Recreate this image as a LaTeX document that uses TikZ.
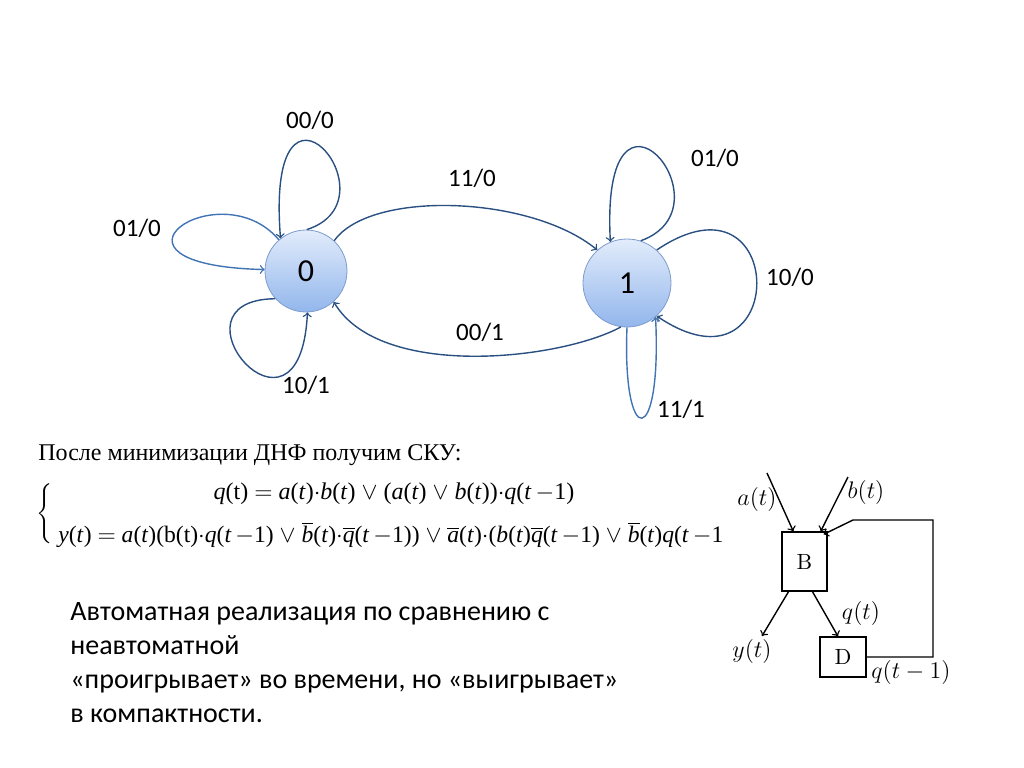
\documentclass[tikz,border=0pt]{standalone}
\usepackage{fontspec}
\setmainfont{Carlito}
\newfontfamily\timesfont{Liberation Serif}
\newfontfamily\lmfont{Latin Modern Roman}
\usetikzlibrary{positioning}

\definecolor{linea}{RGB}{42,80,130}
\definecolor{linea2}{RGB}{66,116,180}
\definecolor{bordo}{RGB}{125,155,205}
\definecolor{chiaro}{RGB}{226,236,251}
\definecolor{scuro}{RGB}{146,182,236}

\newcommand{\vi}[1]{\textit{#1}}
\newcommand{\nega}[1]{$\overline{\mbox{\textit{#1}}}$}

\begin{document}
\begin{tikzpicture}[x=0.5pt,y=-0.5pt,
    stato/.style={circle, draw=bordo, top color=chiaro, bottom color=scuro,
        inner sep=0pt, font=\fontsize{16}{18}\selectfont},
    arco/.style={->, linea, line width=0.7pt},
    etich/.style={font=\fontsize{12.5}{14}\selectfont},
    blocco/.style={draw, line width=0.7pt, inner sep=0pt, font=\lmfont\fontsize{11}{12}\selectfont},
    freccia/.style={->, line width=0.7pt},
    segnale/.style={font=\fontsize{12}{14}\selectfont}]
    \useasboundingbox (0,0) rectangle (1024,767);

    % stati
    \node[stato, minimum size=41pt] (s0) at (306,271) {0};
    \node[stato, minimum size=44pt] (s1) at (627,283) {1};

    % anelli sullo stato 0
    \draw[arco] (s0.89) .. controls (400,200) and (265,40) .. (s0.128);
    \draw[arco, linea2] (s0.131) .. controls (220,170) and (80,265) .. (s0.178);
    \draw[arco] (s0.222) .. controls (160,300) and (300,465) .. (s0.272);

    % archi tra gli stati
    \draw[arco] (s0.47) .. controls (370,190) and (530,195) .. (s1.132);
    \draw[arco] (s1.262) .. controls (560,360) and (380,380) .. (s0.312);

    % anelli sullo stato 1
    \draw[arco] (s1.72) .. controls (735,207) and (600,47) .. (s1.112);
    \draw[arco] (s1.48) .. controls (790,160) and (790,406) .. (s1.312);
    \draw[arco, linea2] (s1.270) .. controls (622,450) and (662,450) .. (s1.310);

    % etichette
    \node[etich] (e1) at (310,120) {00/0};
    \node[etich] (e2) at (137,228) {01/0};
    \node[etich] (e3) at (306,385) {10/1};
    \node[etich] (e4) at (472,178) {11/0};
    \node[etich] (e5) at (480,332) {00/1};
    \node[etich] (e6) at (715,158) {01/0};
    \node[etich] (e7) at (790,277) {10/0};
    \node[etich] (e8) at (681,409) {11/1};

    % sistema
    \node[anchor=west, inner sep=0pt, font=\timesfont\fontsize{12}{14}\selectfont] (titolo) at (38,455)
        {После минимизации ДНФ получим СКУ:};
    \node[inner sep=0pt, font=\fontsize{12}{14}\selectfont] (graffa) at (46,515)
        {$\left\{\rule{0pt}{13pt}\rule[-13pt]{0pt}{13pt}\right.$};
    \node[inner sep=0pt, font=\timesfont\fontsize{12}{14}\selectfont] (eq1) at (394,494)
        {\vi{q}(t) $=$ \vi{a}(\vi{t})$\cdot$\vi{b}(\vi{t}) $\vee$ (\vi{a}(\vi{t}) $\vee$ \vi{b}(\vi{t}))$\cdot$\vi{q}(\vi{t}\,$-$1)};
    \node[anchor=west, inner sep=0pt, font=\timesfont\fontsize{11.8}{14}\selectfont] (eq2) at (58,535)
        {\vi{y}(\vi{t}) $=$ \vi{a}(\vi{t})(b(t)$\cdot$\vi{q}(\vi{t}\,$-$1) $\vee$ \nega{b}(\vi{t})$\cdot$\nega{q}(\vi{t}\,$-$1)) $\vee$ \nega{a}(\vi{t})$\cdot$(\vi{b}(\vi{t})\nega{q}(\vi{t}\,$-$1) $\vee$ \nega{b}(\vi{t})\vi{q}(\vi{t}\,$-$1};

    % testo
    \node[anchor=north west, inner sep=0pt, align=left, font=\fontsize{14}{17}\selectfont] (testo) at (70,602)
        {Автоматная реализация по сравнению с\\неавтоматной\\«проигрывает» во времени, но «выигрывает»\\в компактности.};

    % schema a blocchi
    \node[blocco, minimum width=22.5pt, minimum height=29.5pt] (B) at (804.5,561.5) {B};
    \node[blocco, minimum width=23pt, minimum height=20pt] (D) at (843,657) {D};
    \coordinate (ain) at (767,473);
    \coordinate (bin) at (848,477);
    \coordinate (yout) at (762,636);
    \coordinate (r1) at (933,657);
    \coordinate (r2) at (933,520);
    \coordinate (r3) at (853,520);
    \draw[freccia] (ain) -- ([xshift=6pt]B.north west);
    \draw[freccia] (bin) -- ([xshift=-3.5pt]B.north east);
    \draw[freccia] (D.east) -- (r1) -- (r2) -- (r3) -- ([xshift=-2pt,yshift=-1.5pt]B.north east);
    \draw[freccia] ([xshift=-8pt]B.south) -- (yout);
    \draw[freccia] ([xshift=4pt]B.south) -- ([xshift=-2.5pt]D.north);
    \node[segnale] (la) at (757,499) {$a(t)$};
    \node[segnale] (lb) at (866,492) {$b(t)$};
    \node[segnale] (ly) at (752,651) {$y(t)$};
    \node[segnale] (lq) at (861,613) {$q(t)$};
    \node[segnale] (lq1) at (911,672) {$q(t-1)$};
\end{tikzpicture}
\end{document}
